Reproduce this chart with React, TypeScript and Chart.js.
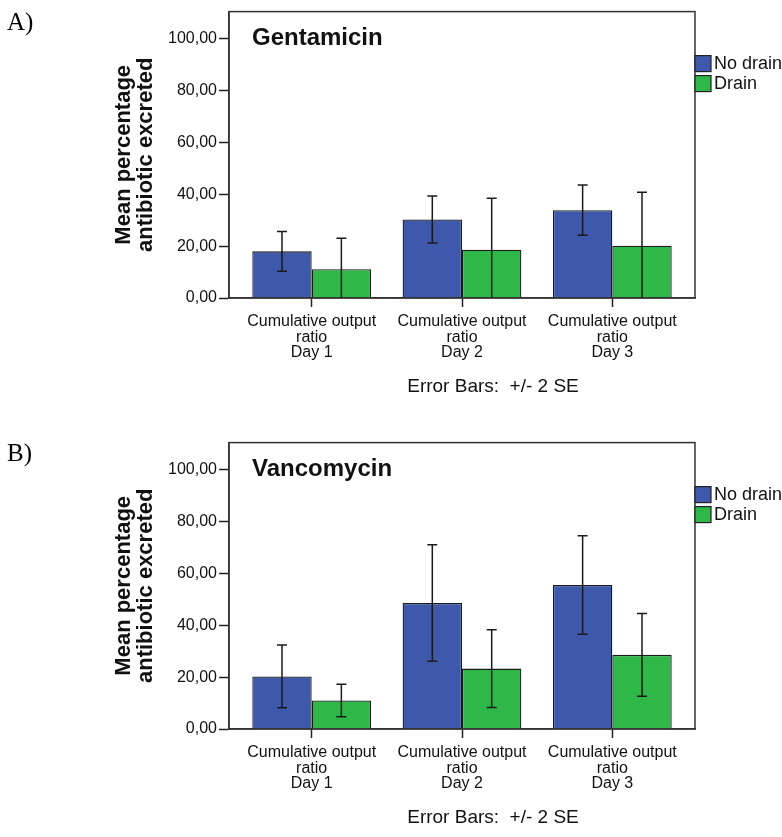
import React, { useEffect, useRef } from "react";
import { Chart, registerables } from "chart.js";

Chart.register(...registerables);

// ---------- data ----------
const categories: string[][] = [
  ["Cumulative output", "ratio", "Day 1"],
  ["Cumulative output", "ratio", "Day 2"],
  ["Cumulative output", "ratio", "Day 3"],
];
const seriesNames = ["No drain", "Drain"];
const yTickValues = [0, 20, 40, 60, 80, 100];
const yAxisTitle = ["Mean percentage", "antibiotic excreted"];
const errorCaption = "Error Bars:  +/- 2 SE";

const gentaNoDrain = [18.0, 30.3, 33.9];
const gentaNoDrainErr = [7.7, 9.1, 9.7];
const gentaDrain = [11.1, 18.6, 20.2];
const gentaDrainErr = [12.0, 19.9, 20.6];

const vancoNoDrain = [20.3, 48.6, 55.6];
const vancoNoDrainErr = [12.1, 22.5, 19.0];
const vancoDrain = [11.0, 23.3, 28.6];
const vancoDrainErr = [6.3, 15.0, 16.0];

const seriesColors = ["#3E58AC", "#2EB848"];
const FONT = '"Liberation Sans", Arial, sans-serif';

type PanelProps = {
  letter: string;
  title: string;
  noDrain: number[];
  noDrainErr: number[];
  drain: number[];
  drainErr: number[];
  top: number;
};

function Panel({ letter, title, noDrain, noDrainErr, drain, drainErr, top }: PanelProps) {
  const ref = useRef<HTMLCanvasElement>(null);

  useEffect(() => {
    if (!ref.current) return;
    const errs = [noDrainErr, drainErr];
    const values = [noDrain, drain];

    const overlay = {
      id: "overlay",
      afterDatasetsDraw(chart: any) {
        const ctx = chart.ctx;
        const ys = chart.scales.y;
        const a = chart.chartArea;
        ctx.save();
        // error bars
        ctx.strokeStyle = "#1a1a1a";
        ctx.lineWidth = 1.5;
        chart.data.datasets.forEach((ds: any, di: number) => {
          const meta = chart.getDatasetMeta(di);
          meta.data.forEach((el: any, j: number) => {
            const v = values[di][j];
            const e = errs[di][j];
            const yHi = ys.getPixelForValue(v + e);
            const yLo = ys.getPixelForValue(v - e);
            const t = Math.max(yHi, a.top);
            const b = Math.min(yLo, a.bottom);
            ctx.beginPath();
            ctx.moveTo(el.x, t);
            ctx.lineTo(el.x, b);
            if (yHi >= a.top) {
              ctx.moveTo(el.x - 5, yHi);
              ctx.lineTo(el.x + 5, yHi);
            }
            if (yLo <= a.bottom - 1) {
              ctx.moveTo(el.x - 5, yLo);
              ctx.lineTo(el.x + 5, yLo);
            }
            ctx.stroke();
          });
        });
        // frame
        ctx.strokeStyle = "#333";
        ctx.lineWidth = 1.5;
        ctx.strokeRect(a.left, a.top, a.right - a.left, a.bottom - a.top);
        ctx.restore();
      },
      afterDraw(chart: any) {
        const ctx = chart.ctx;
        const a = chart.chartArea;
        ctx.save();
        // panel letter
        ctx.fillStyle = "#000";
        ctx.font = '25px "Liberation Serif", "Times New Roman", serif';
        ctx.textAlign = "left";
        ctx.textBaseline = "alphabetic";
        ctx.fillText(letter, 7, 30);
        // chart title
        ctx.font = `bold 24px ${FONT}`;
        ctx.fillStyle = "#111";
        ctx.fillText(title, a.left + 23, a.top + 33);
        // legend
        chart.data.datasets.forEach((ds: any, i: number) => {
          const bx = a.right;
          const by = a.top + 44 + i * 20;
          ctx.fillStyle = ds.backgroundColor;
          ctx.fillRect(bx, by, 16, 16);
          ctx.strokeStyle = "#222";
          ctx.lineWidth = 1.2;
          ctx.strokeRect(bx, by, 16, 16);
          ctx.fillStyle = "#111";
          ctx.font = `18px ${FONT}`;
          ctx.textBaseline = "middle";
          ctx.fillText(ds.label, bx + 19, by + 8.5);
        });
        // error bar caption
        ctx.font = `19px ${FONT}`;
        ctx.textAlign = "center";
        ctx.textBaseline = "alphabetic";
        ctx.fillStyle = "#111";
        ctx.fillText(errorCaption, a.left + 264, 392);
        ctx.restore();
      },
    };

    const chart = new Chart(ref.current, {
      type: "bar",
      data: {
        datasets: values.map((arr, di) => ({
          label: seriesNames[di],
          data: arr.map((v, i) => ({ x: i, y: v })),
          backgroundColor: seriesColors[di],
          borderColor: "#1a1a1a",
          borderWidth: 1.3,
          barPercentage: 1,
          categoryPercentage: 0.79,
        })),
      },
      options: {
        responsive: false,
        animation: false,
        events: [],
        layout: { padding: { top: 6.7, right: 87, left: 0, bottom: 0 } },
        plugins: { legend: { display: false }, tooltip: { enabled: false }, title: { display: false } },
        scales: {
          x: {
            type: "linear",
            offset: false,
            min: -0.55,
            max: 2.55,
            afterBuildTicks: (s: any) => {
              s.ticks = categories.map((_, i) => ({ value: i }));
            },
            afterFit: (s: any) => {
              s.height = 108;
            },
            grid: {
              display: true,
              offset: false,
              drawOnChartArea: false,
              drawTicks: true,
              tickLength: 9,
              tickColor: "#222",
              tickWidth: 1.5,
            },
            border: { display: true, color: "#333", width: 1.5 },
            ticks: {
              callback: (v: any) => categories[Math.round(v)] ?? "",
              autoSkip: false,
              maxRotation: 0,
              minRotation: 0,
              padding: 7,
              color: "#111",
              font: { family: FONT, size: 16, lineHeight: 0.97 },
            },
          },
          y: {
            type: "linear",
            min: 0,
            max: 110.5,
            afterBuildTicks: (s: any) => {
              s.ticks = yTickValues.map((v) => ({ value: v }));
            },
            afterFit: (s: any) => {
              s.width = 229;
            },
            grid: {
              display: true,
              drawOnChartArea: false,
              drawTicks: true,
              tickLength: 10,
              tickColor: "#222",
              tickWidth: 1.5,
            },
            border: { display: true, color: "#333", width: 1.5 },
            ticks: {
              callback: (v: any) => Number(v).toFixed(2).replace(".", ","),
              padding: 2,
              color: "#111",
              font: { family: FONT, size: 16 },
            },
            title: {
              display: true,
              text: yAxisTitle,
              color: "#111",
              font: { family: FONT, size: 22, weight: "bold", lineHeight: 1.0 },
              padding: { top: 113, bottom: 0 },
            },
          },
        },
      },
      plugins: [overlay],
    } as any);

    return () => chart.destroy();
  }, [letter, title, noDrain, noDrainErr, drain, drainErr]);

  return (
    <div style={{ position: "absolute", left: 0, top, width: 782, height: 406 }}>
      <canvas ref={ref} width={782} height={406} style={{ display: "block" }} />
    </div>
  );
}

export default function App() {
  return (
    <div
      style={{
        position: "absolute",
        left: 0,
        top: 0,
        width: 782,
        height: 837,
        overflow: "hidden",
        background: "#fff",
      }}
    >
      <Panel
        letter="A)"
        title="Gentamicin"
        noDrain={gentaNoDrain}
        noDrainErr={gentaNoDrainErr}
        drain={gentaDrain}
        drainErr={gentaDrainErr}
        top={0}
      />
      <Panel
        letter="B)"
        title="Vancomycin"
        noDrain={vancoNoDrain}
        noDrainErr={vancoNoDrainErr}
        drain={vancoDrain}
        drainErr={vancoDrainErr}
        top={431}
      />
    </div>
  );
}
